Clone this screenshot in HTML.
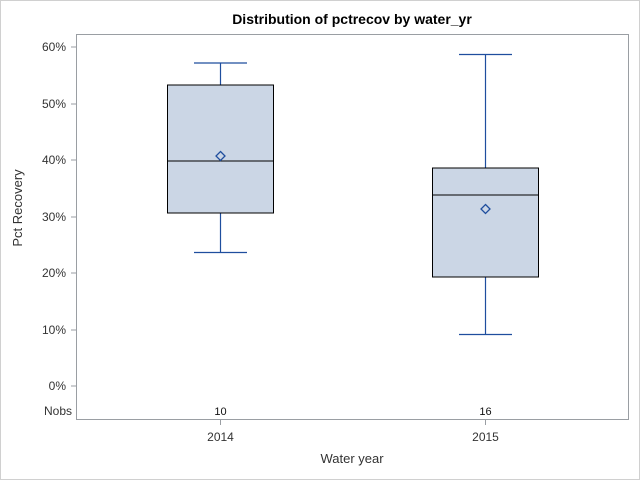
<!DOCTYPE html>
<html><head><style>body{margin:0;background:#fff}svg{display:block}text{font-family:"Liberation Sans",Arial,sans-serif}</style></head><body>
<svg width="640" height="480" xmlns="http://www.w3.org/2000/svg">
<rect x="0.5" y="0.5" width="639" height="479" fill="#fff" stroke="#d0d0d0"/>
<text x="352" y="24" font-size="14" font-weight="bold" text-anchor="middle">Distribution of pctrecov by water_yr</text>
<rect x="76.5" y="34.5" width="552" height="385" fill="none" stroke="#9a9ea3"/>
<g stroke="#9a9ea3">
<line x1="71" y1="47" x2="76" y2="47"/><line x1="71" y1="104" x2="76" y2="104"/><line x1="71" y1="160" x2="76" y2="160"/><line x1="71" y1="217" x2="76" y2="217"/><line x1="71" y1="273" x2="76" y2="273"/><line x1="71" y1="330" x2="76" y2="330"/><line x1="71" y1="386" x2="76" y2="386"/>
<line x1="220.5" y1="420" x2="220.5" y2="425"/><line x1="485.5" y1="420" x2="485.5" y2="425"/>
</g>
<g font-size="12" fill="#333" text-anchor="end">
<text x="66" y="51">60%</text><text x="66" y="108">50%</text><text x="66" y="164">40%</text><text x="66" y="221">30%</text><text x="66" y="277">20%</text><text x="66" y="334">10%</text><text x="66" y="390">0%</text><text x="72" y="415">Nobs</text>
</g>
<g font-size="11" fill="#111" text-anchor="middle"><text x="220.5" y="415">10</text><text x="485.5" y="415">16</text></g>
<g font-size="12" fill="#333" text-anchor="middle"><text x="220.5" y="441">2014</text><text x="485.5" y="441">2015</text></g>
<text x="352" y="463" font-size="13" fill="#333" text-anchor="middle">Water year</text>
<text transform="translate(22,208) rotate(-90)" font-size="13" fill="#333" text-anchor="middle">Pct Recovery</text>
<g stroke="#1f4e9e" stroke-width="1.2" fill="none">
<line x1="220.5" y1="63" x2="220.5" y2="85"/><line x1="194" y1="63" x2="247" y2="63"/>
<line x1="220.5" y1="213" x2="220.5" y2="252"/><line x1="194" y1="252.5" x2="247" y2="252.5"/>
<line x1="485.5" y1="55" x2="485.5" y2="168"/><line x1="459" y1="54.5" x2="512" y2="54.5"/>
<line x1="485.5" y1="277" x2="485.5" y2="334"/><line x1="459" y1="334.5" x2="512" y2="334.5"/>
</g>
<rect x="167.5" y="85" width="106" height="128" fill="#cbd6e5" stroke="#000"/>
<line x1="167.5" y1="161" x2="273.5" y2="161" stroke="#000"/>
<rect x="432.5" y="168" width="106" height="109" fill="#cbd6e5" stroke="#000"/>
<line x1="432.5" y1="195" x2="538.5" y2="195" stroke="#000"/>
<g fill="none" stroke="#1f4e9e" stroke-width="1.3">
<polygon points="220.5,151.5 225,156 220.5,160.5 216,156"/>
<polygon points="485.5,204.5 490,209 485.5,213.5 481,209"/>
</g>
</svg>
</body></html>
